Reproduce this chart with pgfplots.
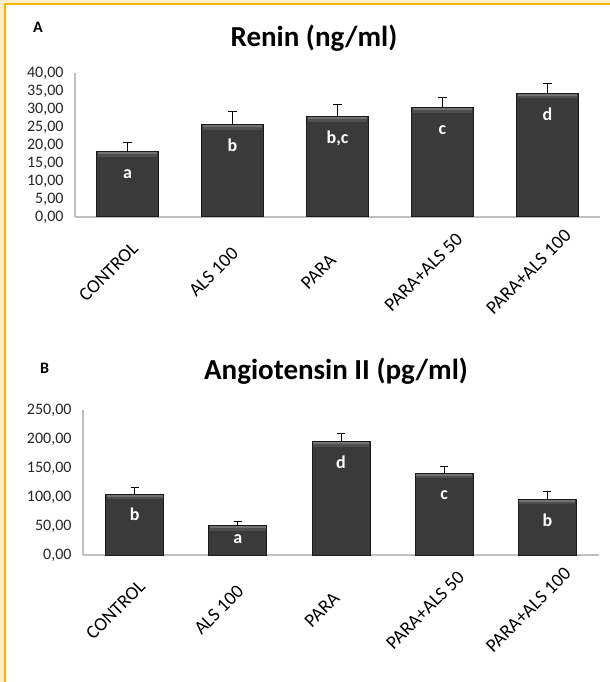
\documentclass[border=0pt]{standalone}
\usepackage{fontspec}
\setmainfont{Carlito}
\usepackage{pgfplots}
\pgfplotsset{compat=1.18}
\definecolor{gold}{HTML}{F2B705}
\definecolor{paleyel}{HTML}{FCEFC7}
\definecolor{barfill}{HTML}{3A3A3A}
\definecolor{baredge}{HTML}{1A1A1A}
\definecolor{bevel}{HTML}{727272}
\definecolor{bevelb}{HTML}{4E4E4E}
\definecolor{axgray}{HTML}{BFBFBF}
\pgfdeclarehorizontalshading{barh}{100bp}{color(0bp)=(baredge); color(7bp)=(barfill); color(93bp)=(barfill); color(100bp)=(baredge)}
\pgfdeclareplotmark{bevel}{%
  \pgfsetfillcolor{bevel}%
  \pgfpathrectangle{\pgfpoint{-\pgfplotmarksize}{-2.5bp}}{\pgfpoint{2\pgfplotmarksize}{2bp}}%
  \pgfusepath{fill}%
  \pgfsetfillcolor{bevelb}%
  \pgfpathrectangle{\pgfpoint{-\pgfplotmarksize}{-5bp}}{\pgfpoint{2\pgfplotmarksize}{2.5bp}}%
  \pgfusepath{fill}%
}
\pgfplotsset{
  mybar/.style={
    scale only axis,
    enlargelimits=false,
    xmin=-0.5, xmax=4.5,
    xtick={0,1,2,3,4},
    xticklabels={CONTROL, ALS 100, PARA, PARA+ALS 50, PARA+ALS 100},
    axis x line*=bottom, axis y line*=left,
    axis line style={axgray, line width=1.2bp, -},
    major tick length=0pt,
    /pgf/number format/assume math mode=true,
    /pgf/number format/fixed,
    /pgf/number format/fixed zerofill,
    /pgf/number format/precision=2,
    /pgf/number format/use comma,
    yticklabel style={font=\fontsize{16bp}{18bp}\selectfont, text=black!85, xshift=-8bp},
    xticklabel style={font=\fontsize{19bp}{21bp}\selectfont, text=black, xshift=-19bp, yshift=-55bp, rotate=45, anchor=center},
    clip=false,
  },
  barplot/.style={ybar, bar shift=0pt, shade, shading=barh, draw=baredge, line width=1bp,
    error bars/.cd, y dir=plus, y explicit,
    error bar style={black, line width=0.8bp},
    error mark options={rotate=90, black, line width=0.8bp, mark size=4bp}},
  bevelplot/.style={only marks, mark=bevel, forget plot},
}
\tikzset{lab/.style={anchor=base, text=white, font=\bfseries\fontsize{18bp}{20bp}\selectfont}}
\begin{document}
\begin{tikzpicture}
\path[use as bounding box] (0,0) rectangle (610bp,682bp);
\fill[white] (0,0) rectangle (610bp,682bp);
\fill[paleyel] (0,0) rectangle (3.5bp,682bp);
\fill[paleyel] (0,679bp) rectangle (610bp,682bp);
\fill[gold] (3.5bp,0) rectangle (6bp,679bp);
\fill[gold] (3.5bp,677bp) rectangle (610bp,679bp);

\node[font=\bfseries\fontsize{16bp}{18bp}\selectfont, anchor=base west, inner sep=0] at (33bp,649bp) {A};
\node[font=\bfseries\fontsize{29bp}{31bp}\selectfont, anchor=base, inner sep=0] at (314bp,635bp) {Renin (ng/ml)};

\begin{axis}[mybar, at={(75bp,465bp)}, anchor=south west, width=525bp, height=144bp,
  ymin=0, ymax=40, ytick={0,5,...,40}, bar width=61bp]
\addplot[barplot] coordinates {
  (0,18.1) +- (0,2.7)
  (1,25.6) +- (0,3.6)
  (2,27.8) +- (0,3.6)
  (3,30.3) +- (0,3.0)
  (4,34.4) +- (0,2.8)
};
\addplot[bevelplot, mark size=29.5bp] coordinates {(0,18.1) (1,25.6) (2,27.8) (3,30.3) (4,34.4)};
\node[lab, yshift=-27bp] at (axis cs:0,18.1) {a};
\node[lab, yshift=-27bp] at (axis cs:1,25.6) {b};
\node[lab, yshift=-27bp] at (axis cs:2,27.8) {b,c};
\node[lab, yshift=-27bp] at (axis cs:3,30.3) {c};
\node[lab, yshift=-27bp] at (axis cs:4,34.4) {d};
\end{axis}

\node[font=\bfseries\fontsize{16bp}{18bp}\selectfont, anchor=base west, inner sep=0] at (40bp,308bp) {B};
\node[font=\bfseries\fontsize{29bp}{31bp}\selectfont, anchor=base, inner sep=0] at (336bp,302bp) {Angiotensin II (pg/ml)};

\begin{axis}[mybar, at={(83bp,127bp)}, anchor=south west, width=516bp, height=145bp,
  ymin=0, ymax=250, ytick={0,50,...,250}, bar width=58bp]
\addplot[barplot] coordinates {
  (0,105) +- (0,12)
  (1,50) +- (0,8.6)
  (2,195) +- (0,15)
  (3,141) +- (0,12)
  (4,96.5) +- (0,12.5)
};
\addplot[bevelplot, mark size=28bp] coordinates {(0,105) (1,50) (2,195) (3,141) (4,96.5)};
\node[lab, yshift=-26bp] at (axis cs:0,105) {b};
\node[lab, yshift=-17bp] at (axis cs:1,50) {a};
\node[lab, yshift=-27bp] at (axis cs:2,195) {d};
\node[lab, yshift=-26bp] at (axis cs:3,141) {c};
\node[lab, yshift=-27bp] at (axis cs:4,96.5) {b};
\end{axis}
\end{tikzpicture}
\end{document}
